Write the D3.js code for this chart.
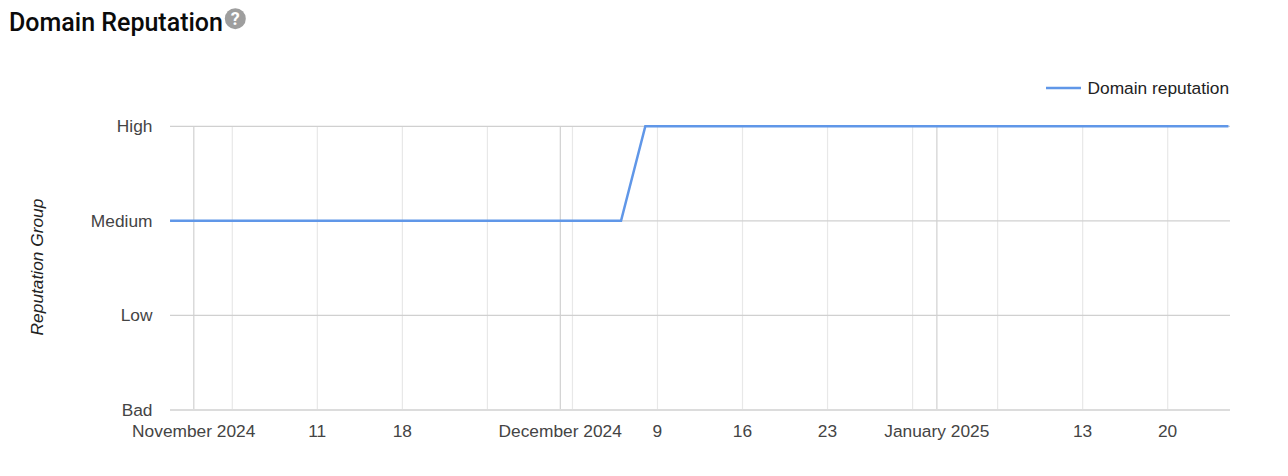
<!DOCTYPE html>
<html><head><meta charset="utf-8">
<script src="https://cdn.jsdelivr.net/npm/d3@7"></script>
<style>
html,body{margin:0;padding:0;background:#fff;overflow:hidden}
svg{display:block}
text{font-family:"Liberation Sans",Arial,sans-serif}
</style></head><body><div id="c"></div>
<script>
const pointDates = ["2024-10-29T21:00Z","2024-12-06T00:00Z","2024-12-08T00:00Z","2025-01-25T00:00Z"];
const pointGroups = ["Medium","Medium","High","High"];
const groups = ["Bad","Low","Medium","High"];
const monthTicks = ["2024-10-31T20:00Z","2024-12-01T00:00Z","2025-01-01T00:00Z"];
const monthLabels = ["November 2024","December 2024","January 2025"];
const weekTicks = ["2024-11-04T00:00Z","2024-11-11T00:00Z","2024-11-18T00:00Z","2024-11-25T00:00Z","2024-12-02T00:00Z","2024-12-09T00:00Z","2024-12-16T00:00Z","2024-12-23T00:00Z","2024-12-30T00:00Z","2025-01-06T00:00Z","2025-01-13T00:00Z","2025-01-20T00:00Z"];
const weekLabels = ["","11","18","","","9","16","23","","","13","20"];
const seriesName = "Domain reputation";
const chartTitle = "Domain Reputation";
const yTitle = "Reputation Group";

const W=1288,H=476,L=170,R=1230,T=126.3,B=410;
const FS=17.33;
const parse=d3.isoParse;
const svg=d3.select("#c").append("svg").attr("width",W).attr("height",H);
const x=d3.scaleUtc().domain([parse("2024-11-04T00:00Z"),parse("2025-01-20T00:00Z")]).range([232.3,1167.7]);
const y=d3.scalePoint().domain(groups).range([B,T]);

// title
svg.append("text").attr("x",9).attr("y",31).attr("font-size",25).attr("font-weight",500)
  .attr("fill","#0b0b0b").style("font-family","Roboto").text(chartTitle);
const help=svg.append("g").attr("transform","translate(235.3,18.7)");
help.append("circle").attr("r",10.5).attr("fill","#9e9e9e");
help.append("text").attr("text-anchor","middle").attr("y",6.5).attr("font-size",18).attr("font-weight",700)
  .attr("fill","#fff").style("font-family","Roboto").text("?");

// vertical gridlines
const vg=svg.append("g");
vg.selectAll("line.w").data(weekTicks).join("line").attr("class","w")
  .attr("x1",d=>x(parse(d))).attr("x2",d=>x(parse(d)))
  .attr("y1",T).attr("y2",B).attr("stroke","#e8e8e8").attr("stroke-width",1.2);
vg.selectAll("line.m").data(monthTicks).join("line").attr("class","m")
  .attr("x1",d=>x(parse(d))).attr("x2",d=>x(parse(d)))
  .attr("y1",T).attr("y2",B).attr("stroke","#cccccc").attr("stroke-width",1.1);

// horizontal gridlines + y axis labels
const yAxis=d3.axisLeft(y).tickSize(0).tickPadding(17.5);
const ya=svg.append("g").attr("transform",`translate(${L},0)`).call(yAxis);
ya.select(".domain").remove();
ya.selectAll("text").attr("font-size",FS).attr("fill","#444").style("font-family",'"Liberation Sans"');
svg.append("g").selectAll("line").data(groups).join("line")
  .attr("x1",L).attr("x2",R)
  .attr("y1",d=>y(d)).attr("y2",d=>y(d))
  .attr("stroke",d=>d==="Bad"?"#dcdcdc":"#d0d0d0").attr("stroke-width",d=>d==="Bad"?1.8:1.3);

// x axis labels
const xAxisW=d3.axisBottom(x).tickValues(weekTicks.map(d=>parse(d))).tickSize(0).tickPadding(0)
  .tickFormat((d,i)=>weekLabels[i]);
const xw=svg.append("g").attr("transform",`translate(-0.6,${B+15})`).call(xAxisW);
xw.select(".domain").remove();
const xAxisM=d3.axisBottom(x).tickValues(monthTicks.map(d=>parse(d))).tickSize(0).tickPadding(0)
  .tickFormat((d,i)=>monthLabels[i]);
const xm=svg.append("g").attr("transform",`translate(-0.6,${B+15})`).call(xAxisM);
xm.select(".domain").remove();
svg.selectAll("g.tick text").attr("font-size",FS).attr("fill","#444").style("font-family",'"Liberation Sans"');

// y title
svg.append("text").attr("transform","translate(43,267) rotate(-90)").attr("text-anchor","middle")
  .attr("font-size",FS).attr("font-style","italic").attr("fill","#222").text(yTitle);

// series
const line=d3.line().x((d,i)=>x(parse(pointDates[i]))).y((d,i)=>y(pointGroups[i]));
svg.append("path").datum(pointDates).attr("d",line).attr("fill","none")
  .attr("stroke","#6097e8").attr("stroke-width",2.5).attr("stroke-linejoin","miter");

// legend
svg.append("line").attr("x1",1046).attr("x2",1081).attr("y1",88).attr("y2",88)
  .attr("stroke","#6097e8").attr("stroke-width",2.5);
svg.append("text").attr("x",1087.5).attr("y",94).attr("font-size",FS).attr("fill","#222").text(seriesName);
</script></body></html>
